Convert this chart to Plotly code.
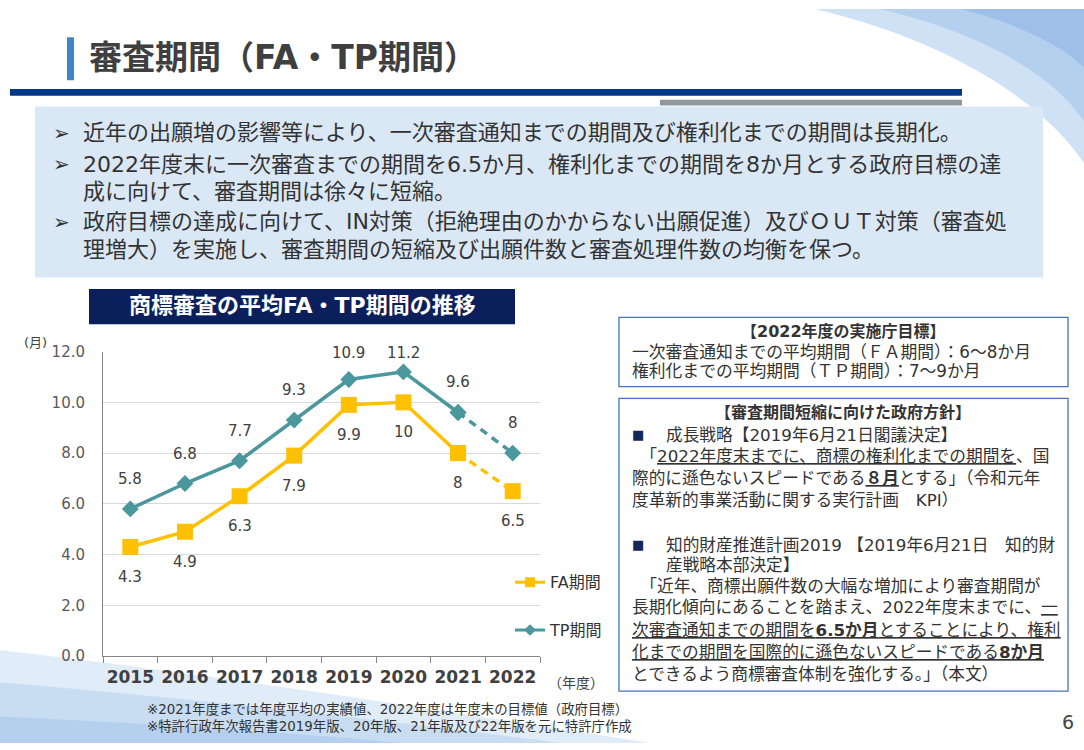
import plotly.graph_objects as go

W, H = 1084, 750

# ---------------- data ----------------
years = ["2015", "2016", "2017", "2018", "2019", "2020", "2021", "2022"]
fa_values = [4.3, 4.9, 6.3, 7.9, 9.9, 10, 8, 6.5]
tp_values = [5.8, 6.8, 7.7, 9.3, 10.9, 11.2, 9.6, 8]
fa_labels = ["4.3", "4.9", "6.3", "7.9", "9.9", "10", "8", "6.5"]
tp_labels = ["5.8", "6.8", "7.7", "9.3", "10.9", "11.2", "9.6", "8"]
y_ticks = [0, 2, 4, 6, 8, 10, 12]
n_actual = 7  # 2015-2021 actual values, 2022 target (dashed)

FONT = "DejaVu Sans, Noto Sans CJK JP"
NUM = "DejaVu Sans"
FA_C = "#FFC000"
TP_C = "#4A979E"

# plot area in pixels
PX0, PX1 = 103, 540
PY_TOP, PY_BOT = 351, 663


def px(x):
    return x / W


def py(y):
    return 1 - y / H


def curve(p0, c1, c2, p1, closing):
    s = f"M{px(p0[0]):.5f},{py(p0[1]):.5f} C{px(c1[0]):.5f},{py(c1[1]):.5f} {px(c2[0]):.5f},{py(c2[1]):.5f} {px(p1[0]):.5f},{py(p1[1]):.5f} "
    for (x, y) in closing:
        s += f"L{px(x):.5f},{py(y):.5f} "
    return s + "Z"


fig = go.Figure()

# dashed target segments first
fig.add_trace(go.Scatter(x=years[n_actual - 1:], y=fa_values[n_actual - 1:], mode="lines+markers",
                         line=dict(color=FA_C, width=3.5, dash="8px,6px"),
                         marker=dict(symbol="square", size=16, color=FA_C),
                         showlegend=False, cliponaxis=False, hoverinfo="skip"))
fig.add_trace(go.Scatter(x=years[n_actual - 1:], y=tp_values[n_actual - 1:], mode="lines+markers",
                         line=dict(color=TP_C, width=3.5, dash="8px,6px"),
                         marker=dict(symbol="diamond", size=13, color=TP_C),
                         showlegend=False, cliponaxis=False, hoverinfo="skip"))
# solid actual segments
fig.add_trace(go.Scatter(x=years[:n_actual], y=fa_values[:n_actual], mode="lines+markers",
                         line=dict(color=FA_C, width=3.5),
                         marker=dict(symbol="square", size=16, color=FA_C),
                         showlegend=False, cliponaxis=False))
fig.add_trace(go.Scatter(x=years[:n_actual], y=tp_values[:n_actual], mode="lines+markers",
                         line=dict(color=TP_C, width=3.5),
                         marker=dict(symbol="diamond", size=13, color=TP_C),
                         showlegend=False, cliponaxis=False))
# legend entries
fig.add_trace(go.Scatter(x=[None], y=[None], mode="lines+markers", name="FA期間",
                         line=dict(color=FA_C, width=3), marker=dict(symbol="square", size=10, color=FA_C),
                         legendgroup="fa"))
fig.add_trace(go.Scatter(x=[None], y=[None], mode="lines+markers", name="TP期間",
                         line=dict(color=TP_C, width=3), marker=dict(symbol="diamond", size=9, color=TP_C),
                         legendgroup="tp"))

ppu = (PY_BOT - PY_TOP) / 12.0
annotations = []
for i, (v, t) in enumerate(zip(tp_values, tp_labels)):
    shift = min(30, (12 - v) * ppu - 2)
    annotations.append(dict(x=i, y=v, xref="x", yref="y", text=t, showarrow=False,
                            yshift=shift, font=dict(family=NUM, size=15, color="#404040")))
for i, (v, t) in enumerate(zip(fa_values, fa_labels)):
    annotations.append(dict(x=i, y=v, xref="x", yref="y", text=t, showarrow=False,
                            yshift=-30, font=dict(family=NUM, size=15, color="#404040")))


def txt(x, y, s, size=17, color="#333333", anchor="left", family=FONT):
    annotations.append(dict(x=px(x), y=py(y), xref="paper", yref="paper", text=s, showarrow=False,
                            xanchor=anchor, yanchor="middle", align=anchor,
                            font=dict(family=family, size=size, color=color)))


# title
txt(87, 50, "<b>審査期間（FA・TP期間）</b>", size=33, color="#3F3F3F")

# bullets
bullets = [
    (127, "➢", "近年の出願増の影響等により、一次審査通知までの期間及び権利化までの期間は長期化。"),
    (159, "➢", "2022年度末に一次審査までの期間を6.5か月、権利化までの期間を8か月とする政府目標の達"),
    (187, "", "成に向けて、審査期間は徐々に短縮。"),
    (218, "➢", "政府目標の達成に向けて、IN対策（拒絶理由のかからない出願促進）及びＯＵＴ対策（審査処"),
    (246, "", "理増大）を実施し、審査期間の短縮及び出願件数と審査処理件数の均衡を保つ。"),
]
for y, b, s in bullets:
    if b:
        txt(51, y, b, size=20, color="#333333", family="DejaVu Sans")
    txt(81, y, s, size=22)

# chart title
txt(302, 304, "<b>商標審査の平均FA・TP期間の推移</b>", size=22, color="#FFFFFF", anchor="center")

# axis extra labels
txt(35, 342, "(月)", size=13, color="#404040", anchor="center")
txt(576, 691, "（年度）", size=14, color="#404040", anchor="center")

# right box 1
txt(843, 330, "<b>【2022年度の実施庁目標】</b>", size=16, color="#333333", anchor="center")
txt(630, 351, "一次審査通知までの平均期間（ＦＡ期間）：6～8か月", size=16.8)
txt(630, 371, "権利化までの平均期間（ＴＰ期間）：7～9か月", size=16.8)

# right box 2
FS = 16.7
txt(843, 413, "<b>【審査期間短縮に向けた政府方針】</b>", size=16, color="#333333", anchor="center")
sq = '<span style="color:#14285A">■</span>'
box2 = [
    (436, 664, "成長戦略【2019年6月21日閣議決定】"),
    (458, 630, "　「<u>2022年度末までに、商標の権利化までの期間を</u>、国"),
    (481, 630, "際的に遜色ないスピードである<b><u>８月</u></b>とする」（令和元年"),
    (503, 630, "度革新的事業活動に関する実行計画　KPI）"),
    (549, 664, "知的財産推進計画2019 【2019年6月21日　知的財"),
    (570, 664, "産戦略本部決定】"),
    (591, 630, "　「近年、商標出願件数の大幅な増加により審査期間が"),
    (613, 630, "長期化傾向にあることを踏まえ、2022年度末までに、<u>一</u>"),
    (636, 630, "<u>次審査通知までの期間を<b>6.5か月</b>とすることにより、権利</u>"),
    (659, 630, "<u>化までの期間を国際的に遜色ないスピードである<b>8か月</b></u>"),
    (681, 630, "とできるよう商標審査体制を強化する。」（本文）"),
]
for y in (436, 549):
    txt(630, y, sq, size=13)
for y, x, s in box2:
    txt(x, y, s, size=FS)

# footnotes
txt(145, 718, "※2021年度までは年度平均の実績値、2022年度は年度末の目標値（政府目標）", size=13.4)
txt(145, 735, "※特許行政年次報告書2019年版、20年版、21年版及び22年版を元に特許庁作成", size=13.4)
txt(1068, 731, "6", size=19, color="#444444", anchor="center")

shapes = []
# decorative swooshes (below)
shapes.append(dict(type="path", xref="paper", yref="paper", layer="below",
                   path=curve((815, 0), (940, 30), (1040, 90), (1084, 158), [(1084, 0)]),
                   fillcolor="#CFE1F4", line=dict(width=0)))
shapes.append(dict(type="path", xref="paper", yref="paper", layer="below",
                   path=curve((880, 0), (985, 25), (1055, 70), (1084, 115), [(1084, 0)]),
                   fillcolor="#B5D0EE", line=dict(width=0)))
shapes.append(dict(type="path", xref="paper", yref="paper", layer="below",
                   path=curve((960, 0), (1020, 15), (1065, 40), (1084, 60), [(1084, 0)]),
                   fillcolor="#9EC0E8", line=dict(width=0)))
shapes.append(dict(type="path", xref="paper", yref="paper", layer="below",
                   path=curve((0, 657), (200, 680), (420, 715), (650, 752), [(0, 752)]),
                   fillcolor="#E0ECF8", line=dict(width=0)))
shapes.append(dict(type="path", xref="paper", yref="paper", layer="below",
                   path=curve((0, 690), (180, 705), (380, 728), (560, 752), [(0, 752)]),
                   fillcolor="#C9DDF2", line=dict(width=0)))
shapes.append(dict(type="path", xref="paper", yref="paper", layer="below",
                   path=curve((0, 725), (150, 732), (300, 742), (400, 752), [(0, 752)]),
                   fillcolor="#B4D0EE", line=dict(width=0)))


def rect(x0, y0, x1, y1, fill=None, line=None, lw=0, layer="below"):
    shapes.append(dict(type="rect", xref="paper", yref="paper", layer=layer,
                       x0=px(x0), x1=px(x1), y0=py(y1), y1=py(y0),
                       fillcolor=fill if fill else "rgba(0,0,0,0)",
                       line=dict(width=lw, color=line if line else "rgba(0,0,0,0)")))


rect(67, 29, 74, 73, fill="#3A87C9")          # title bar accent
rect(10, 82, 962, 89, fill="#023884")         # navy rule
rect(660, 93, 962, 99, fill="#8E999E")        # gray rule
rect(35, 100, 1043, 275, fill="#DAE7F5")      # bullet box
rect(89, 287, 515, 323, fill="#0B1F5C")       # chart title bar
rect(619, 316, 1068, 387, fill="#FFFFFF", line="#4472C4", lw=1.3)
rect(619, 399, 1068, 699, fill="#FFFFFF", line="#4472C4", lw=1.3)

fig.update_layout(
    width=W, height=H,
    margin=dict(l=0, r=0, t=0, b=0),
    paper_bgcolor="#FFFFFF", plot_bgcolor="rgba(0,0,0,0)",
    shapes=shapes, annotations=annotations,
    showlegend=True,
    legend=dict(x=px(510), y=py(570), xanchor="left", yanchor="top",
                bgcolor="rgba(0,0,0,0)", traceorder="grouped", tracegroupgap=24,
                font=dict(family=FONT, size=16, color="#333333")),
    xaxis=dict(domain=[px(PX0), px(PX1)], type="category", categoryorder="array", categoryarray=years,
               range=[-0.5, len(years) - 0.5], autorange=False,
               tickson="boundaries", ticks="outside", ticklen=6, tickcolor="#868686",
               showline=True, linecolor="#868686", linewidth=1, showgrid=False,
               tickfont=dict(family=NUM, size=17, color="#404040", weight="bold"),
               ticklabelstandoff=6, tickangle=0, fixedrange=True),
    yaxis=dict(domain=[py(PY_BOT), py(PY_TOP)], range=[0, 12], tickvals=y_ticks,
               tickformat=".1f", showgrid=True, gridcolor="#D9D9D9", gridwidth=1,
               showline=True, linecolor="#868686", linewidth=1, zeroline=False, ticks="",
               tickfont=dict(family=NUM, size=15, color="#595959"),
               ticklabelstandoff=14, fixedrange=True),
)

fig.write_html("out.html")
